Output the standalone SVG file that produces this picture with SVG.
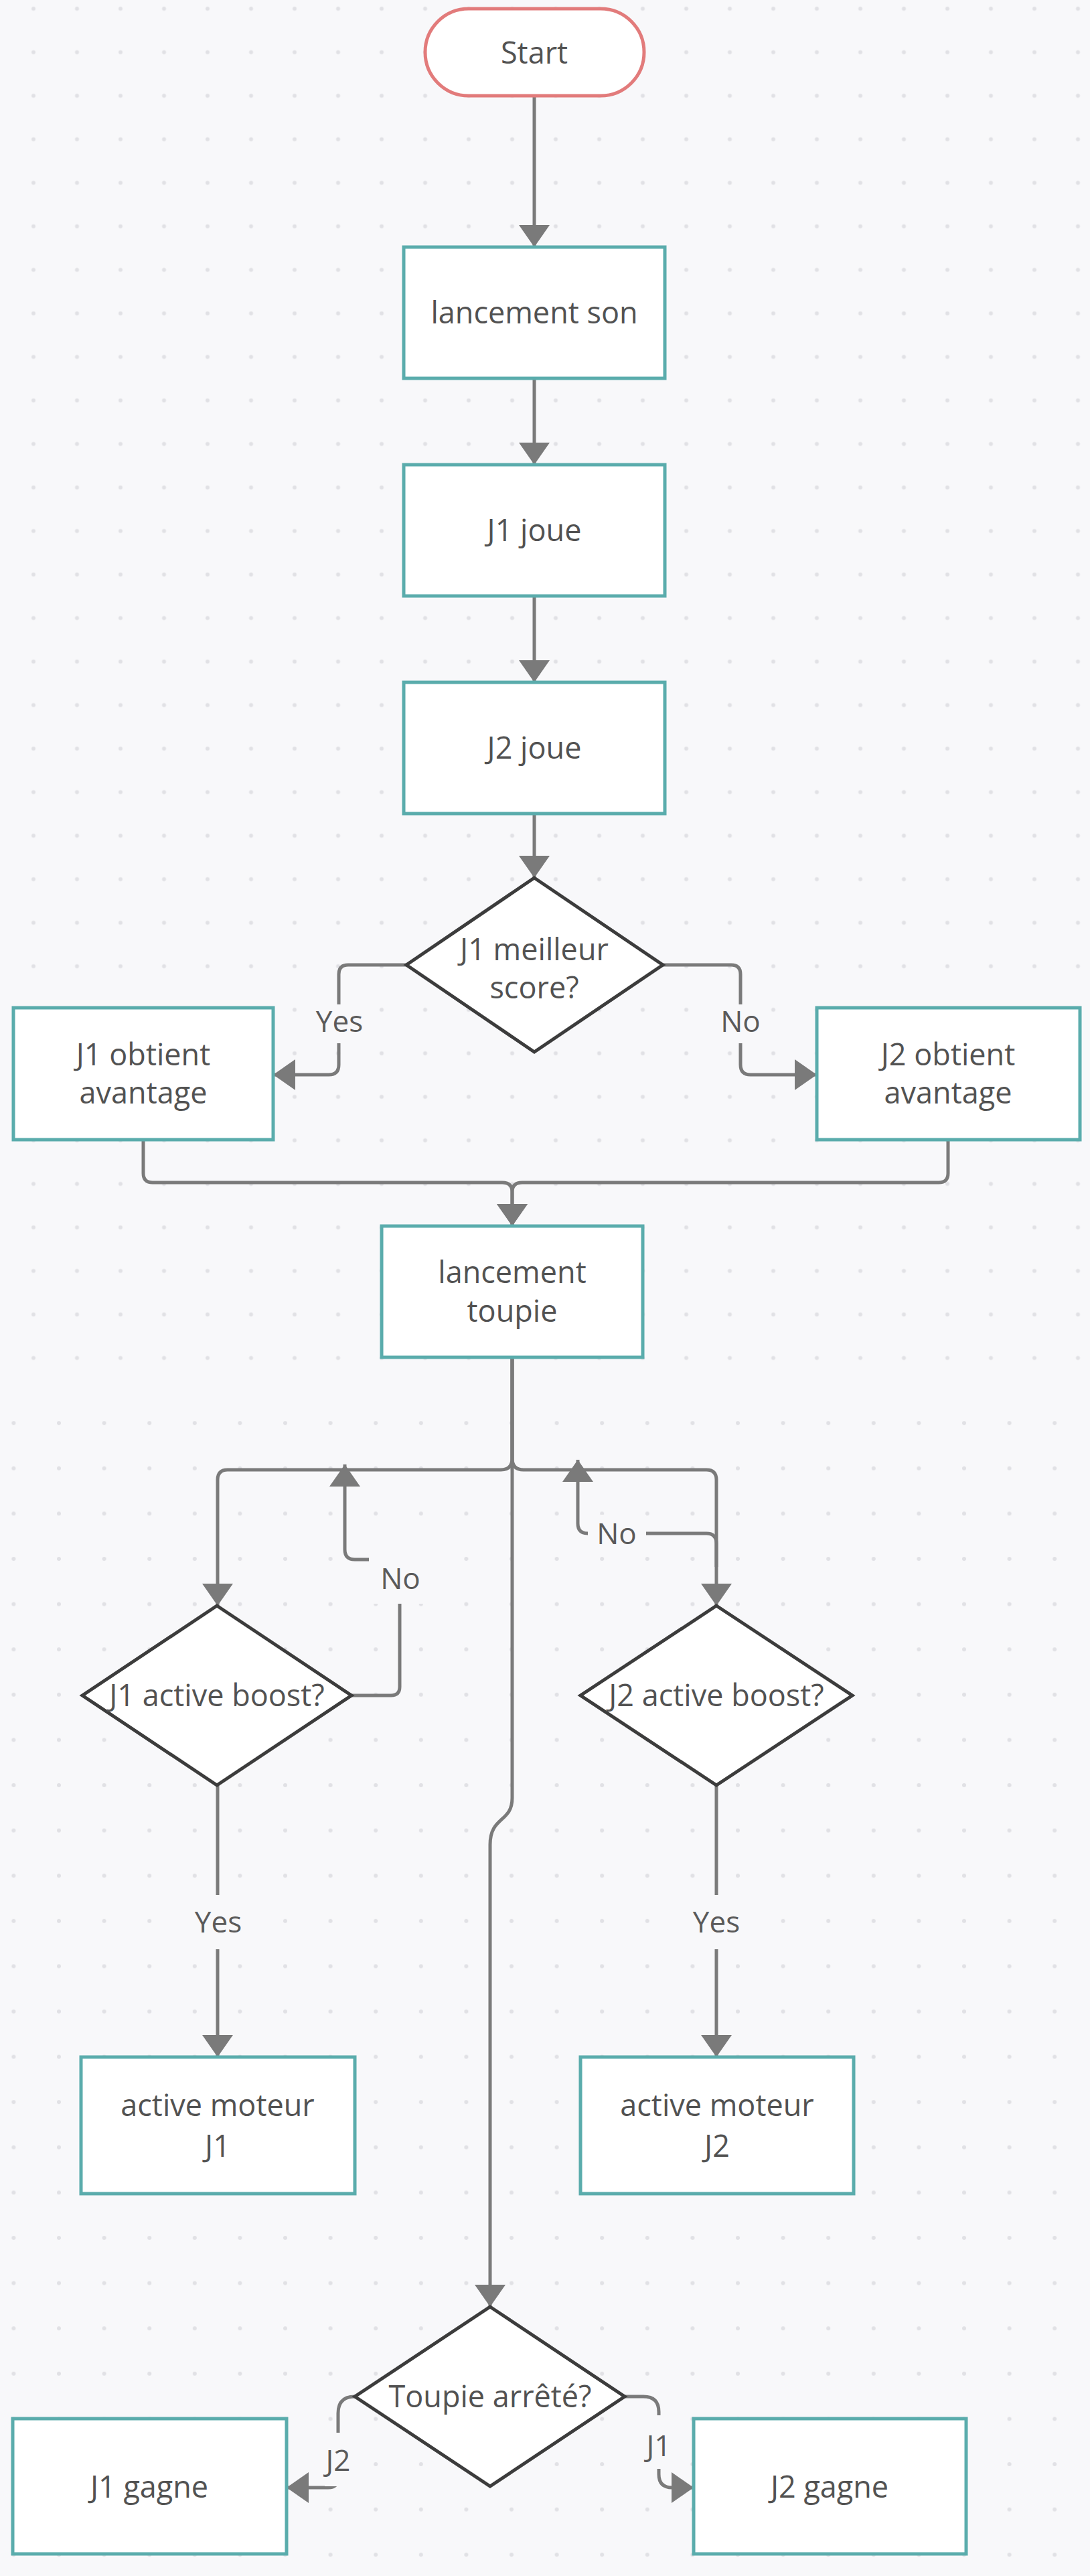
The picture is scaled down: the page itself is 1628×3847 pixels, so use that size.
<svg xmlns="http://www.w3.org/2000/svg" width="1628" height="3847" viewBox="0 0 1628 3847">
<style>
.box{fill:#ffffff;stroke:#5aacac;stroke-width:5}
.start{fill:#ffffff;stroke:#e27b7b;stroke-width:5}
.dia{fill:#ffffff;stroke:#3c3c3c;stroke-width:5;stroke-linejoin:miter}
.t{font-family:"Open Sans","Noto Sans","Liberation Sans",sans-serif;font-size:45px;fill:#525252;text-anchor:middle}
.lbl{font-family:"Open Sans","Noto Sans","Liberation Sans",sans-serif;font-size:44px;fill:#5a5a5a;text-anchor:middle}
.c{fill:none;stroke:#7a7a7a;stroke-width:5}
.ca{fill:none;stroke:#7a7a7a;stroke-width:5;marker-end:url(#arr)}
.lb{fill:#f8f8fa}
</style>
<defs>
<marker id="arr" markerUnits="userSpaceOnUse" markerWidth="34" markerHeight="46" refX="33" refY="23" orient="auto">
<path d="M0,0 L33,23 L0,46 z" fill="#7a7a7a"/>
</marker>
<pattern id="dotsA" patternUnits="userSpaceOnUse" x="17.5" y="-19.5" width="65" height="65">
<circle cx="32.5" cy="32.5" r="3" fill="#e1e1e5"/>
</pattern>
<pattern id="dotsB" patternUnits="userSpaceOnUse" x="-13.4" y="2632.2" width="67.6" height="67.6">
<circle cx="33.8" cy="33.8" r="3" fill="#e1e1e5"/>
</pattern>
</defs>
<rect x="0" y="0" width="1628" height="3847" fill="#f8f8fa"/>
<rect x="0" y="0" width="1628" height="2080" fill="url(#dotsA)"/>
<rect x="0" y="2080" width="1628" height="1767" fill="url(#dotsB)"/>

<g id="connectors">
<path class="ca" d="M798,143 L798,369"/>
<path class="ca" d="M798,565 L798,694"/>
<path class="ca" d="M798,890 L798,1019"/>
<path class="ca" d="M798,1215 L798,1311"/>
<path class="ca" d="M607,1441 L520,1441 Q506,1441 506,1455 L506,1590 Q506,1605 491,1605 L408,1605"/>
<path class="ca" d="M990,1441 L1092,1441 Q1106,1441 1106,1455 L1106,1590 Q1106,1605 1121,1605 L1220,1605"/>
<path class="ca" d="M214,1702 L214,1752 Q214,1766 228,1766 L750,1766 Q765,1766 765,1780 L765,1831"/>
<path class="ca" d="M1416,1702 L1416,1752 Q1416,1766 1402,1766 L780,1766 Q765,1766 765,1780 L765,1831"/>
<path class="ca" d="M765,2027 L765,2178 Q765,2195 748,2195 L340,2195 Q325,2195 325,2210 L325,2398"/>
<path class="ca" d="M765,2027 L765,2178 Q765,2195 782,2195 L1055,2195 Q1070,2195 1070,2210 L1070,2398"/>
<path class="ca" d="M765,2027 L765,2685 C765,2722 732,2712 732,2755 L732,3445"/>
<path class="ca" d="M525,2532 L584,2532 Q597,2532 597,2519 L597,2343 Q597,2329 583,2329 L530,2329 Q515,2329 515,2314 L515,2187"/>
<path class="ca" d="M1070,2340 L1070,2305 Q1070,2290 1055,2290 L878,2290 Q863,2290 863,2275 L863,2180"/>
<path class="ca" d="M325,2666 L325,3072"/>
<path class="ca" d="M1070,2666 L1070,3072"/>
<path class="ca" d="M530,3579 Q505,3579 505,3604 L505,3700 Q505,3715 490,3715 L428,3715"/>
<path class="ca" d="M933,3579 L961,3579 Q984,3579 984,3602 L984,3695 Q984,3715 1004,3715 L1036,3715"/>

<rect class="lb" x="474" y="1500" width="64" height="58"/>
<text class="lbl" x="507" y="1541">Yes</text>
<rect class="lb" x="1080" y="1500" width="54" height="58"/>
<text class="lbl" x="1106" y="1541">No</text>
<rect class="lb" x="551" y="2320" width="94" height="75"/>
<text class="lbl" x="598" y="2373">No</text>
<rect class="lb" x="878" y="2262" width="87" height="56"/>
<text class="lbl" x="921" y="2306">No</text>
<rect class="lb" x="285" y="2830" width="80" height="81"/>
<text class="lbl" x="326" y="2886">Yes</text>
<rect class="lb" x="1030" y="2830" width="80" height="81"/>
<text class="lbl" x="1070" y="2886">Yes</text>
<rect class="lb" x="485" y="3633" width="42" height="80"/>
<text class="lbl" x="505" y="3690">J2</text>
<rect class="lb" x="962" y="3607" width="44" height="80"/>
<text class="lbl" x="984" y="3668">J1</text>
</g>

<g id="start">
<rect class="start" x="635" y="13" width="327" height="130" rx="65" ry="65"/>
<text class="t" x="798" y="95">Start</text>
</g>
<g id="lancement-son">
<rect class="box" x="603" y="369" width="390" height="196"/>
<text class="t" x="798" y="483">lancement son</text>
</g>
<g id="j1-joue">
<rect class="box" x="603" y="694" width="390" height="196"/>
<text class="t" x="798" y="808">J1 joue</text>
</g>
<g id="j2-joue">
<rect class="box" x="603" y="1019" width="390" height="196"/>
<text class="t" x="798" y="1133">J2 joue</text>
</g>
<g id="j1-meilleur-score">
<polygon class="dia" points="798,1311 990,1441 798,1571 607,1441"/>
<text class="t" x="798" y="1434">J1 meilleur</text>
<text class="t" x="798" y="1491">score?</text>
</g>
<g id="j1-obtient-avantage">
<rect class="box" x="20" y="1505" width="388" height="197"/>
<text class="t" x="214" y="1591">J1 obtient</text>
<text class="t" x="214" y="1648">avantage</text>
</g>
<g id="j2-obtient-avantage">
<rect class="box" x="1220" y="1505" width="393" height="197"/>
<text class="t" x="1416" y="1591">J2 obtient</text>
<text class="t" x="1416" y="1648">avantage</text>
</g>
<g id="lancement-toupie">
<rect class="box" x="570" y="1831" width="390" height="196"/>
<text class="t" x="765" y="1916">lancement</text>
<text class="t" x="765" y="1974">toupie</text>
</g>
<g id="j1-active-boost">
<polygon class="dia" points="324,2398 525,2532 324,2666 123,2532"/>
<text class="t" x="324" y="2548">J1 active boost?</text>
</g>
<g id="j2-active-boost">
<polygon class="dia" points="1070,2398 1273,2532 1070,2666 867,2532"/>
<text class="t" x="1070" y="2548">J2 active boost?</text>
</g>
<g id="active-moteur-j1">
<rect class="box" x="121" y="3072" width="409" height="204"/>
<text class="t" x="325" y="3160">active moteur</text>
<text class="t" x="325" y="3221">J1</text>
</g>
<g id="active-moteur-j2">
<rect class="box" x="867" y="3072" width="408" height="204"/>
<text class="t" x="1071" y="3160">active moteur</text>
<text class="t" x="1071" y="3221">J2</text>
</g>
<g id="toupie-arrete">
<polygon class="dia" points="732,3445 933,3579 732,3713 530,3579"/>
<text class="t" x="732" y="3595">Toupie arrêté?</text>
</g>
<g id="j1-gagne">
<rect class="box" x="19" y="3612" width="409" height="202"/>
<text class="t" x="223" y="3730">J1 gagne</text>
</g>
<g id="j2-gagne">
<rect class="box" x="1036" y="3612" width="407" height="202"/>
<text class="t" x="1239" y="3730">J2 gagne</text>
</g>
</svg>
